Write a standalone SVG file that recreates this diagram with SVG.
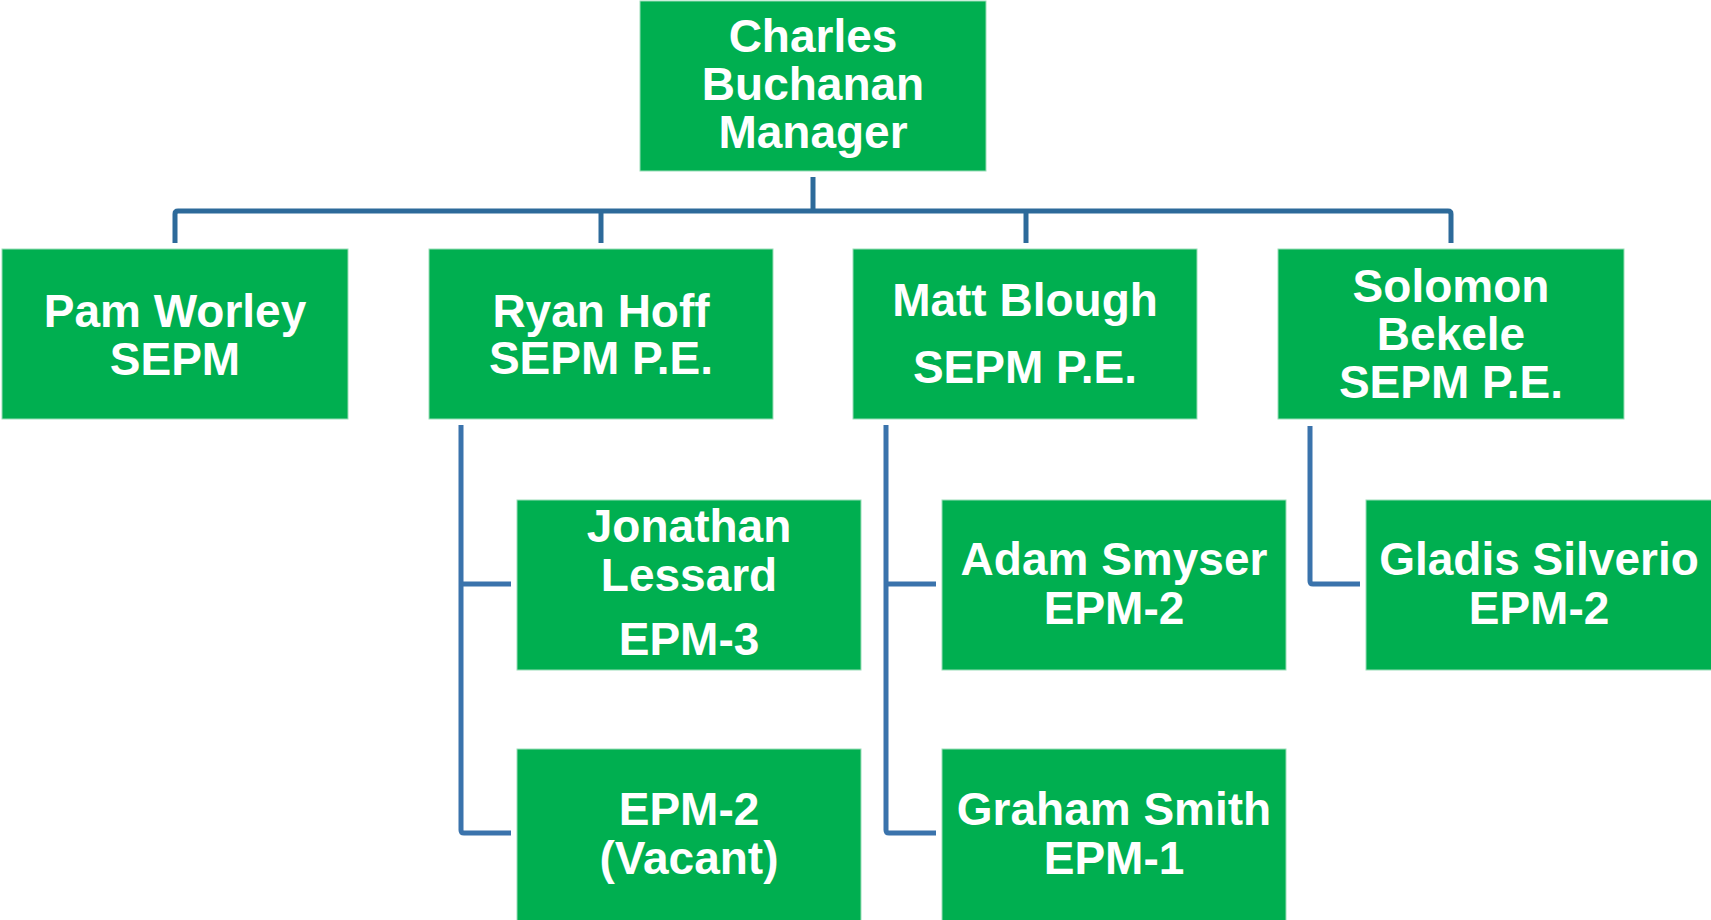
<svg xmlns="http://www.w3.org/2000/svg" width="1711" height="920" viewBox="0 0 1711 920">
<style>
.box{fill:#00AF50;stroke:#9ADDB8;stroke-width:1}
.t{font-family:"Liberation Sans",Arial,sans-serif;font-weight:bold;font-size:46px;fill:#FFFFFF;text-anchor:middle}
.bus{fill:none;stroke:#2D6A9A;stroke-width:5;stroke-linejoin:round}
.br{fill:none;stroke:#3A73AC;stroke-width:5;stroke-linejoin:round}
</style>
<rect width="1711" height="920" fill="#FFFFFF"/>
<g id="connectors">
<path class="bus" d="M813 177 V211"/>
<path class="bus" d="M175 243 V214 Q175 211 178 211 H1448 Q1451 211 1451 214 V243"/>
<path class="bus" d="M601 211 V243"/>
<path class="bus" d="M1026 211 V243"/>
<path class="br" d="M461 425 V830 Q461 833 464 833 H511"/>
<path class="br" d="M461 584 H511"/>
<path class="br" d="M886 425 V830 Q886 833 889 833 H936"/>
<path class="br" d="M886 584 H936"/>
<path class="br" d="M1310 426 V581 Q1310 584 1313 584 H1360"/>
</g>
<g id="charles">
<rect class="box" x="640" y="1" width="346" height="170"/>
<text class="t" x="813" y="52">Charles</text>
<text class="t" x="813" y="100">Buchanan</text>
<text class="t" x="813" y="148">Manager</text>
</g>
<g id="pam">
<rect class="box" x="2" y="249" width="346" height="170"/>
<text class="t" x="175" y="327">Pam Worley</text>
<text class="t" x="175" y="375">SEPM</text>
</g>
<g id="ryan">
<rect class="box" x="429" y="249" width="344" height="170"/>
<text class="t" x="601" y="327">Ryan Hoff</text>
<text class="t" x="601" y="374">SEPM P.E.</text>
</g>
<g id="matt">
<rect class="box" x="853" y="249" width="344" height="170"/>
<text class="t" x="1025" y="316">Matt Blough</text>
<text class="t" x="1025" y="383">SEPM P.E.</text>
</g>
<g id="solomon">
<rect class="box" x="1278" y="249" width="346" height="170"/>
<text class="t" x="1451" y="302">Solomon</text>
<text class="t" x="1451" y="350">Bekele</text>
<text class="t" x="1451" y="398">SEPM P.E.</text>
</g>
<g id="jonathan">
<rect class="box" x="517" y="500" width="344" height="170"/>
<text class="t" x="689" y="542">Jonathan</text>
<text class="t" x="689" y="591">Lessard</text>
<text class="t" x="689" y="655">EPM-3</text>
</g>
<g id="vacant">
<rect class="box" x="517" y="749" width="344" height="172"/>
<text class="t" x="689" y="825">EPM-2</text>
<text class="t" x="689" y="874">(Vacant)</text>
</g>
<g id="adam">
<rect class="box" x="942" y="500" width="344" height="170"/>
<text class="t" x="1114" y="575">Adam Smyser</text>
<text class="t" x="1114" y="624">EPM-2</text>
</g>
<g id="graham">
<rect class="box" x="942" y="749" width="344" height="172"/>
<text class="t" x="1114" y="825">Graham Smith</text>
<text class="t" x="1114" y="874">EPM-1</text>
</g>
<g id="gladis">
<rect class="box" x="1366" y="500" width="346" height="170"/>
<text class="t" x="1539" y="575">Gladis Silverio</text>
<text class="t" x="1539" y="624">EPM-2</text>
</g>
</svg>
